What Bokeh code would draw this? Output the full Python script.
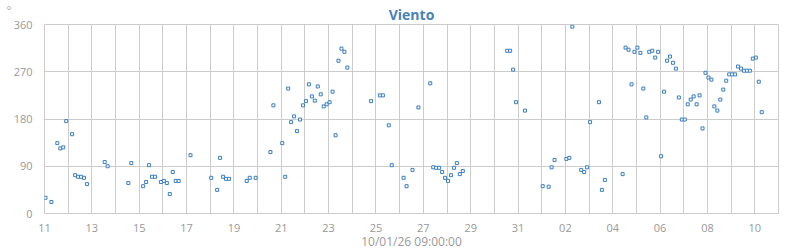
import pandas as pd
from bokeh.plotting import figure
from bokeh.models import FixedTicker, DatetimeTickFormatter, Title
from bokeh.embed import file_html
from bokeh.resources import INLINE

title_text = "Viento"
x_label = "10/01/26 09:00:00"
y_unit = "°"
start_time = "2025-12-11 00:00"
end_time = "2026-01-11 00:00"
y_ticks = [0, 90, 180, 270, 360]

# hours since start_time of each reading
hours = [1, 7, 13, 16, 19, 22, 28, 31, 34, 37, 40, 43, 61, 64, 85, 88, 100, 103, 106, 109,
         112, 118, 121, 124, 127, 130, 133, 136, 148,
         169, 175, 178, 181, 184, 187, 205, 208, 214, 229, 232, 241, 244, 247, 250, 253, 256,
         259, 262, 265, 268, 271, 274, 277, 280, 283, 286, 289, 292, 295, 298, 301, 304, 307,
         331, 340, 343, 349, 352, 364, 367, 373, 379, 391, 394, 397, 400, 403, 406, 409, 412,
         415, 418, 421, 424,
         469, 472, 475, 478, 487, 505, 511, 514, 517, 529, 532, 535, 544, 547, 550, 553, 562,
         565, 568,
         586, 589, 592, 595, 598, 601, 604, 607, 610, 613, 616, 619, 622, 625, 628, 631, 634,
         637, 640, 643, 646, 649, 652, 655, 658, 661, 664, 667, 670, 673, 676, 679, 682, 685,
         688, 691, 694, 697, 700, 703, 706, 709, 712, 715, 718, 721, 724, 727]

# wind direction (degrees)
direction = [30, 22, 134, 124, 126, 176, 151, 73, 70, 70, 68, 56, 98, 90, 58, 96, 52, 60, 92, 70,
             70, 60, 62, 58, 37, 79, 62, 62, 111,
             68, 45, 106, 70, 66, 66, 62, 68, 68, 117, 206, 134, 70, 238, 174, 185, 157,
             179, 206, 214, 246, 223, 215, 242, 227, 204, 208, 212, 232, 149, 291, 314, 308, 278,
             214, 225, 225, 168, 92, 68, 52, 83, 202, 248, 88, 87, 87, 79, 68, 62, 73,
             87, 96, 75, 81,
             310, 310, 274, 212, 196, 52, 51, 88, 102, 104, 106, 356, 83, 79, 88, 174, 212,
             45, 64,
             75, 316, 312, 246, 308, 316, 306, 238, 183, 308, 310, 297, 308, 109, 232, 291, 299,
             287, 276, 221, 179, 179, 208, 217, 223, 208, 225, 162, 268, 259, 255, 204, 196, 217,
             236, 253, 265, 265, 265, 280, 276, 272, 272, 272, 295, 297, 251, 193]

start = pd.Timestamp(start_time)
end = pd.Timestamp(end_time)
times = [start + pd.Timedelta(hours=h) for h in hours]

GRID = "#cccccc"
LABEL = "#999999"
BLUE = "#3a7ebf"

p = figure(width=800, height=250, x_axis_type="datetime",
           x_range=(start, end), y_range=(0, 360),
           output_backend="svg", toolbar_location=None,
           min_border_left=44, min_border_right=22, min_border_top=24, min_border_bottom=36,
           background_fill_color="white", border_fill_color="white")

p.scatter(times, direction, marker="square", size=3, fill_color="white",
          line_color=BLUE, line_width=1)

to_ms = lambda t: t.value / 1e6
major = [to_ms(t) for t in pd.date_range(start, end, freq="2D")]
minor = [to_ms(t) for t in pd.date_range(start, end, freq="1D")]
p.xaxis.ticker = FixedTicker(ticks=major, minor_ticks=minor)
p.xaxis.formatter = DatetimeTickFormatter(days="%d", months="%d", years="%d", hours="%d",
                                          minutes="%d", hourmin="%d", seconds="%d")
p.yaxis.ticker = FixedTicker(ticks=y_ticks)

for ax in (p.xaxis, p.yaxis):
    ax.axis_line_color = None
    ax.major_tick_line_color = None
    ax.minor_tick_line_color = None
    ax.major_label_text_font = "Open Sans"
    ax.major_label_text_font_size = "11px"
    ax.major_label_text_color = LABEL
p.yaxis.major_label_standoff = 6
p.xaxis.major_label_standoff = 4

p.xgrid.grid_line_color = GRID
p.xgrid.minor_grid_line_color = GRID
p.ygrid.grid_line_color = GRID
p.outline_line_color = GRID

p.title.text = title_text
p.title.align = "center"
p.title.offset = -11
p.title.standoff = 2
p.title.text_font = "Open Sans"
p.title.text_font_size = "14px"
p.title.text_font_style = "bold"
p.title.text_color = "#4682b4"

p.add_layout(Title(text=x_label, align="center", offset=-11, standoff=-3, vertical_align="top",
                   text_font="Open Sans", text_font_size="12px", text_color=LABEL,
                   text_font_style="normal"), "below")
p.add_layout(Title(text=y_unit, align="right", offset=-19, standoff=-15,
                   text_font="Open Sans", text_font_size="11px", text_color=LABEL,
                   text_font_style="normal"), "left")

open("out.html", "w").write(file_html(p, INLINE))
